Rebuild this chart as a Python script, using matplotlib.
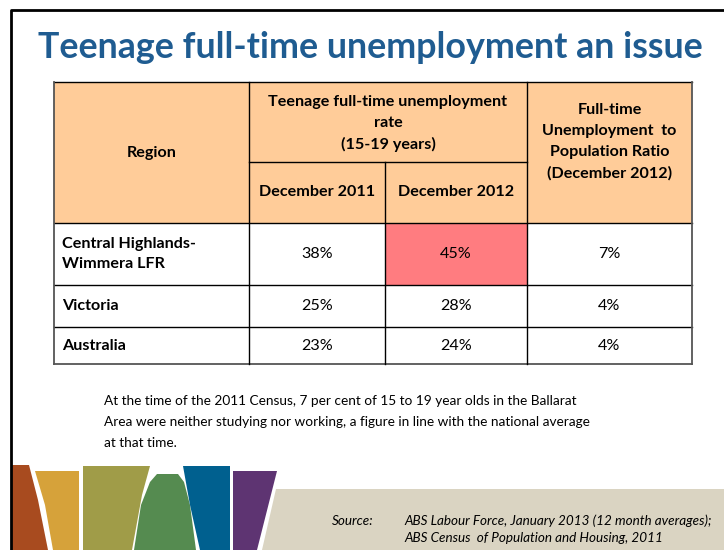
import matplotlib
matplotlib.use("Agg")
import matplotlib.pyplot as plt
from matplotlib.patches import Rectangle, Polygon

# ---------------- data ----------------
title = "Teenage full-time unemployment an issue"
regions = ["Central Highlands-\nWimmera LFR", "Victoria", "Australia"]
dec_2011 = [38, 25, 23]
dec_2012 = [45, 28, 24]
ratio_dec_2012 = [7, 4, 4]
highlight = (0, 2)  # (row, column) of the emphasised cell

hdr_region = "Region"
hdr_rate = "Teenage full-time unemployment\nrate\n(15-19 years)"
hdr_sub = ["December 2011", "December 2012"]
hdr_ratio = "Full-time\nUnemployment  to\nPopulation Ratio\n(December 2012)"

para_lines = [
    "At the time of the 2011 Census, 7 per cent of 15 to 19 year olds in the Ballarat",
    "Area were neither studying nor working, a figure in line with the national average",
    "at that time.",
]
source_label = "Source:"
source_lines = ["ABS Labour Force, January 2013 (12 month averages);",
                "ABS Census  of Population and Housing, 2011"]

# ---------------- layout (pixels) ----------------
W, H = 724, 550
FONT = "Lato"
col_x = [54, 249, 385, 527, 692]
row_y = [82, 162, 223, 285, 327, 364]
HEAD_FILL = "#FFCC99"
HIGH_FILL = "#FF7C80"
TITLE_C = "#1F5C91"

fig = plt.figure(figsize=(W / 100, H / 100), dpi=100)
ax = fig.add_axes([0, 0, 1, 1])
ax.set_xlim(0, W)
ax.set_ylim(H, 0)
ax.axis("off")
renderer = fig.canvas.get_renderer()


def fit(t, width):
    bb = t.get_window_extent(renderer)
    t.set_fontsize(t.get_fontsize() * width / bb.width)
    return t.get_fontsize()


# slide border
ax.plot([11, 11, W], [H, 10, 10], color="black", lw=2, solid_capstyle="butt")

# title
t = ax.text(370, 47, title, ha="center", va="center", fontsize=24,
            fontweight="bold", color=TITLE_C, family=FONT)
fit(t, 666)

# ---- table ----
ax.add_patch(Rectangle((col_x[0], row_y[0]), col_x[-1] - col_x[0],
                       row_y[2] - row_y[0], facecolor=HEAD_FILL, edgecolor="none"))
body_tops = row_y[2:5]
body_bots = row_y[3:6]
cols_vals = [dec_2011, dec_2012, ratio_dec_2012]
for r in range(len(regions)):
    for c in range(4):
        fc = HIGH_FILL if (r, c) == highlight else "white"
        ax.add_patch(Rectangle((col_x[c], body_tops[r]), col_x[c + 1] - col_x[c],
                               body_bots[r] - body_tops[r], facecolor=fc, edgecolor="none"))

lc = "black"
lw = 1.0
for y in [row_y[0], row_y[2], row_y[3], row_y[4]]:
    ax.plot([col_x[0], col_x[-1]], [y, y], color=lc, lw=lw)
ax.plot([col_x[1], col_x[3]], [row_y[1], row_y[1]], color=lc, lw=lw)
ax.plot([col_x[0], col_x[-1]], [row_y[5], row_y[5]], color="#555555", lw=1.3)
for x in [col_x[1], col_x[3]]:
    ax.plot([x, x], [row_y[0], row_y[5]], color=lc, lw=lw)
ax.plot([col_x[2], col_x[2]], [row_y[1], row_y[5]], color=lc, lw=lw)
for x in [col_x[0], col_x[-1]]:
    ax.plot([x, x], [row_y[0], row_y[5]], color="#555555", lw=1.3)

tmp = ax.text(0, 0, hdr_sub[0], fontsize=11, fontweight="bold", family=FONT)
tfs = fit(tmp, 116)
tmp.remove()
ls = 1.62

ax.text((col_x[0] + col_x[1]) / 2, 153, hdr_region, ha="center", va="center",
        fontsize=tfs, fontweight="bold", family=FONT)
ax.text((col_x[1] + col_x[3]) / 2, 123.5, hdr_rate, ha="center", va="center",
        fontsize=tfs, fontweight="bold", family=FONT, linespacing=ls, multialignment="center")
for i, s in enumerate(hdr_sub):
    ax.text((col_x[1 + i] + col_x[2 + i]) / 2, 192, s, ha="center", va="center",
            fontsize=tfs, fontweight="bold", family=FONT)
ax.text((col_x[3] + col_x[4]) / 2, 141.5, hdr_ratio, ha="center", va="center",
        fontsize=tfs, fontweight="bold", family=FONT, linespacing=ls, multialignment="center")

for r, name in enumerate(regions):
    yc = (body_tops[r] + body_bots[r]) / 2
    ax.text(col_x[0] + 8, yc, name, ha="left", va="center", fontsize=tfs,
            fontweight="bold", family=FONT, linespacing=ls)
    for c, vals in enumerate(cols_vals):
        ax.text((col_x[c + 1] + col_x[c + 2]) / 2, yc, f"{vals[r]}%", ha="center",
                va="center", fontsize=tfs, family=FONT)

# ---- paragraph ----
pt = ax.text(104, 401, para_lines[0], ha="left", va="center", fontsize=10, family=FONT)
pfs = fit(pt, 470)
for i, s in enumerate(para_lines[1:], start=1):
    ax.text(104, 401 + 21 * i, s, ha="left", va="center", fontsize=pfs, family=FONT)

# ---- decorative footer ----
shapes = [
    ("#A84B1F", [(12, 465), (29, 465), (38, 500), (48, 550), (12, 550)]),
    ("#D6A23A", [(35, 471), (79, 471), (79, 550), (53, 550), (45, 505)]),
    ("#A09C48", [(83, 466), (150, 466), (142, 495), (132, 550), (83, 550)]),
    ("#558B50", [(134, 550), (141, 505), (150, 482), (157, 474), (178, 474), (184, 482),
                 (190, 505), (196, 550)]),
    ("#00608F", [(183, 466), (230, 466), (230, 550), (200, 550), (190, 505)]),
    ("#5E3472", [(233, 471), (277, 471), (257, 550), (233, 550)]),
    ("#DAD4C2", [(276, 489), (W, 489), (W, H), (262, H)]),
]
for col, pts in shapes:
    ax.add_patch(Polygon(pts, closed=True, facecolor=col, edgecolor="none"))

st = ax.text(332, 521, source_label, ha="left", va="center", fontsize=9,
             style="italic", family=FONT)
s1 = ax.text(404, 521, source_lines[0], ha="left", va="center", fontsize=9,
             style="italic", family=FONT)
sfs = fit(s1, 307)
st.set_fontsize(sfs)
ax.text(404, 538, source_lines[1], ha="left", va="center", fontsize=sfs,
        style="italic", family=FONT)

fig.savefig("out.png", dpi=100)
